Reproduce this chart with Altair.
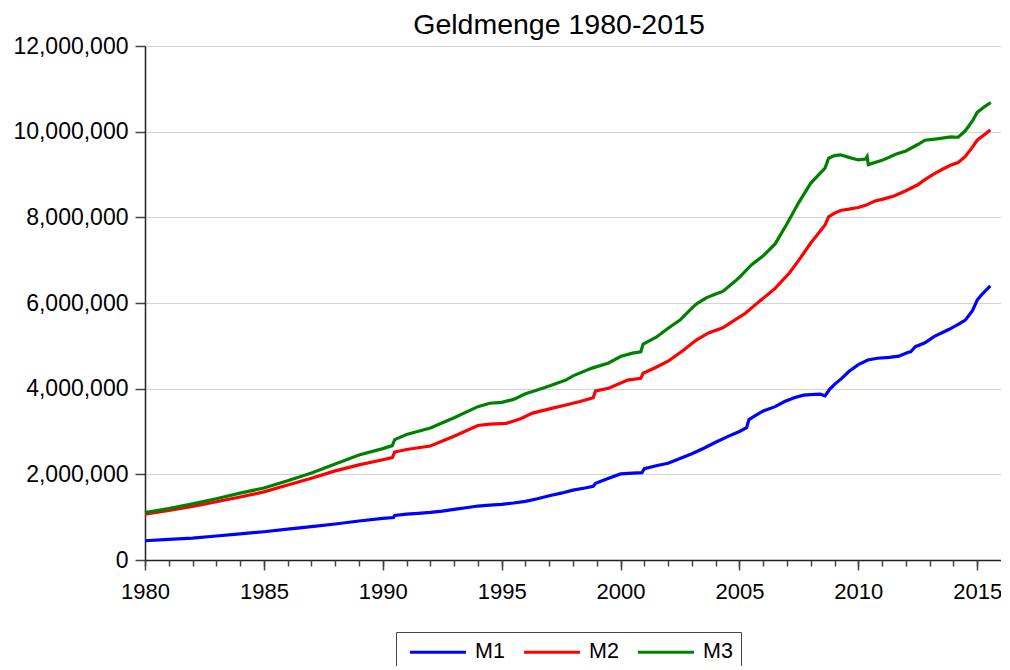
import altair as alt
import pandas as pd

# ---- data (values in units) ----
m1_years = [1980.0, 1981.0, 1982.0, 1983.0, 1984.0, 1985.0, 1986.0, 1987.0, 1988.0, 1989.0,
            1990.0, 1990.45, 1990.5, 1991.0, 1991.5, 1992.0, 1992.5, 1993.0, 1993.5, 1994.0,
            1994.5, 1995.0, 1995.5, 1996.0, 1996.5, 1997.0, 1997.5, 1998.0, 1998.5, 1998.85,
            1998.95, 1999.5, 2000.0, 2000.5, 2000.9, 2001.0, 2001.5, 2002.0, 2002.5, 2003.0,
            2003.5, 2004.0, 2004.5, 2005.0, 2005.3, 2005.4, 2005.7, 2006.0, 2006.5, 2006.9,
            2007.3, 2007.7, 2008.0, 2008.4, 2008.6, 2008.8, 2009.0, 2009.3, 2009.6, 2010.0,
            2010.4, 2010.8, 2011.3, 2011.7, 2012.1, 2012.2, 2012.4, 2012.8, 2013.2, 2013.8,
            2014.2, 2014.5, 2014.8, 2015.0, 2015.2, 2015.55]
m1_values = [0.45, 0.48, 0.51, 0.56, 0.61, 0.66, 0.72, 0.78, 0.84, 0.91,
             0.97, 0.99, 1.04, 1.07, 1.09, 1.11, 1.14, 1.18, 1.22, 1.26,
             1.28, 1.30, 1.33, 1.37, 1.43, 1.50, 1.56, 1.63, 1.68, 1.72,
             1.79, 1.91, 2.01, 2.03, 2.04, 2.13, 2.20, 2.26, 2.37, 2.48,
             2.61, 2.75, 2.88, 3.00, 3.09, 3.28, 3.38, 3.48, 3.58, 3.70,
             3.79, 3.85, 3.86, 3.87, 3.83, 3.99, 4.10, 4.24, 4.40, 4.56,
             4.67, 4.71, 4.73, 4.76, 4.85, 4.86, 4.98, 5.07, 5.22, 5.38,
             5.50, 5.60, 5.82, 6.07, 6.20, 6.40]

m2_years = [1980.0, 1981.0, 1982.0, 1983.0, 1984.0, 1985.0, 1986.0, 1987.0, 1988.0, 1989.0,
            1990.0, 1990.4, 1990.5, 1991.0, 1992.0, 1993.0, 1994.0, 1994.5, 1995.2, 1995.8,
            1996.3, 1997.1, 1997.7, 1998.3, 1998.85, 1998.95, 1999.5, 2000.3, 2000.85, 2000.95,
            2001.5, 2002.0, 2002.6, 2003.2, 2003.7, 2004.3, 2004.8, 2005.25, 2005.8, 2006.5,
            2007.1, 2007.5, 2008.0, 2008.6, 2008.75, 2009.0, 2009.25, 2009.6, 2010.0, 2010.3,
            2010.7, 2011.0, 2011.5, 2012.0, 2012.5, 2012.8, 2013.2, 2013.6, 2013.9, 2014.2,
            2014.5, 2014.76, 2015.0, 2015.3, 2015.55]
m2_values = [1.07, 1.16, 1.25, 1.36, 1.47, 1.59, 1.75, 1.91, 2.08, 2.22,
             2.34, 2.39, 2.52, 2.58, 2.66, 2.89, 3.14, 3.17, 3.19, 3.30,
             3.43, 3.54, 3.62, 3.70, 3.79, 3.95, 4.01, 4.20, 4.24, 4.36,
             4.50, 4.64, 4.88, 5.14, 5.30, 5.42, 5.60, 5.76, 6.02, 6.34,
             6.70, 7.00, 7.40, 7.82, 8.01, 8.10, 8.16, 8.19, 8.23, 8.28,
             8.38, 8.42, 8.50, 8.62, 8.76, 8.88, 9.02, 9.14, 9.22, 9.28,
             9.42, 9.61, 9.80, 9.93, 10.04]

m3_years = [1980.0, 1981.0, 1982.0, 1983.0, 1984.0, 1985.0, 1986.0, 1987.0, 1988.0, 1989.0,
            1990.0, 1990.4, 1990.5, 1991.0, 1992.0, 1993.0, 1994.0, 1994.5, 1995.0, 1995.5,
            1996.0, 1996.5, 1997.0, 1997.7, 1998.0, 1998.8, 1999.5, 2000.0, 2000.5, 2000.85,
            2000.95, 2001.5, 2002.0, 2002.5, 2003.0, 2003.2, 2003.6, 2004.0, 2004.3, 2004.8,
            2005.0, 2005.5, 2006.0, 2006.5, 2007.0, 2007.5, 2008.0, 2008.6, 2008.75, 2009.0,
            2009.25, 2009.6, 2010.0, 2010.3, 2010.37, 2010.42, 2011.0, 2011.6, 2012.0, 2012.5,
            2012.8, 2013.3, 2013.9, 2014.2, 2014.5, 2014.8, 2015.0, 2015.3, 2015.57]
m3_values = [1.11, 1.20, 1.31, 1.43, 1.56, 1.68, 1.85, 2.03, 2.24, 2.45,
             2.60, 2.67, 2.81, 2.93, 3.08, 3.32, 3.58, 3.66, 3.68, 3.75,
             3.88, 3.97, 4.06, 4.20, 4.30, 4.48, 4.60, 4.75, 4.83, 4.86,
             5.04, 5.20, 5.41, 5.60, 5.88, 5.98, 6.12, 6.21, 6.27, 6.50,
             6.60, 6.89, 7.10, 7.38, 7.85, 8.35, 8.80, 9.15, 9.38, 9.44,
             9.46, 9.40, 9.34, 9.36, 9.42, 9.23, 9.33, 9.48, 9.55, 9.70,
             9.80, 9.83, 9.88, 9.87, 10.02, 10.25, 10.45, 10.58, 10.68]

series_names = ["M1", "M2", "M3"]
series_colors = ["#0000ff", "#ff0000", "#008000"]
major_years = [1980, 1985, 1990, 1995, 2000, 2005, 2010, 2015]
minor_years = list(range(1980, 2016))
y_ticks = [0, 2000000, 4000000, 6000000, 8000000, 10000000, 12000000]

rows = []
for name, ys, vs in zip(series_names, [m1_years, m2_years, m3_years], [m1_values, m2_values, m3_values]):
    for yr, v in zip(ys, vs):
        rows.append({"series": name, "year": yr, "value": v * 1_000_000})
df = pd.DataFrame(rows)

FONT = "Liberation Sans"

xscale = alt.Scale(domain=[1980, 2016], nice=False, zero=False)
yscale = alt.Scale(domain=[0, 12000000], nice=False)

y_axis = alt.Axis(values=y_ticks, format=",d", grid=True, gridColor="#d4d4d4", gridWidth=1,
                  tickSize=10, tickColor="#444", tickWidth=1.5, domainColor="#222", domainWidth=1.5,
                  labelFontSize=23, labelFont=FONT, labelColor="black", labelPadding=7, title=None)

major_axis = alt.Axis(values=major_years, format="d", orient="bottom", grid=False,
                      tickSize=10, tickColor="#444", tickWidth=1.5, domainColor="#222", domainWidth=1.5,
                      labelFontSize=22, labelFont=FONT, labelColor="black", labelPadding=11, title=None,
                      labelFlush=False)

minor_axis = alt.Axis(values=minor_years, orient="bottom", grid=False, labels=False, domain=False,
                      tickSize=6, tickColor="#444", tickWidth=1.5, title=None)

color = alt.Color("series:N",
                  scale=alt.Scale(domain=series_names, range=series_colors),
                  legend=alt.Legend(orient="none", legendX=251, legendY=586, direction="horizontal",
                                    title=None, symbolType="M-0.6,0H5", symbolSize=400, symbolStrokeWidth=3.2,
                                    labelFontSize=21.5, labelFont=FONT, labelColor="black", labelOffset=47,
                                    columnPadding=12, padding=8, strokeColor="#444", fillColor="white"))

lines = alt.Chart(df).mark_line(strokeWidth=3.2).encode(
    x=alt.X("year:Q", scale=xscale, axis=major_axis),
    y=alt.Y("value:Q", scale=yscale, axis=y_axis),
    color=color,
    order="year:Q",
)

minor = alt.Chart(df).mark_line(opacity=0).encode(
    x=alt.X("year:Q", scale=xscale, axis=minor_axis),
    y=alt.Y("value:Q", scale=yscale, axis=y_axis),
    detail="series:N",
)

chart = alt.layer(lines, minor).resolve_axis(x="independent").properties(
    width=856, height=514,
    title=alt.TitleParams("Geldmenge 1980-2015", fontSize=28.5, font=FONT, fontWeight="normal",
                          color="black", anchor="middle", dx=-14, dy=12, offset=8),
    autosize=alt.AutoSizeParams(type="none"),
    padding={"left": 137, "top": 38, "right": 0, "bottom": 106},
).configure_view(stroke="#222", strokeWidth=2).configure(background="white")

chart.save("out.html", embed_options={"renderer": "svg", "actions": False})
